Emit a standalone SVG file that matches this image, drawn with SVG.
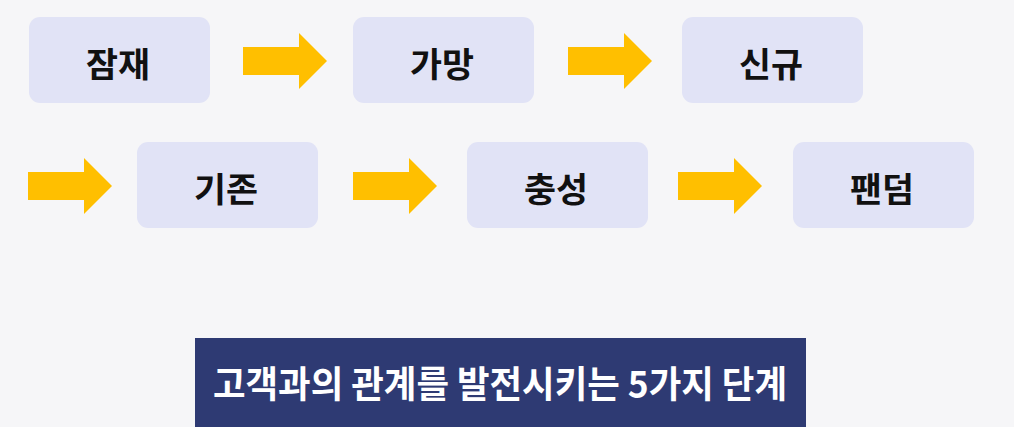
<svg xmlns="http://www.w3.org/2000/svg" width="1014" height="427" viewBox="0 0 1014 427">
<style>
.box{fill:#e1e3f6;}
.lbl{font-family:"Noto Sans CJK KR","Noto Sans",sans-serif;font-weight:700;font-size:34px;fill:#111111;text-anchor:middle;dominant-baseline:central;}
.arr{fill:#ffbf00;}
.title{font-family:"Noto Sans CJK KR","Noto Sans",sans-serif;font-weight:700;font-size:37px;fill:#ffffff;text-anchor:middle;dominant-baseline:central;}
</style>
<defs>
<path id="arrow" d="M0,14 H56 V0 L84,28 L56,56 V42 H0 Z"/>
</defs>
<rect width="1014" height="427" fill="#f6f6f8"/>
<g id="connectors">
<use href="#arrow" class="arr" x="243" y="33"/>
<use href="#arrow" class="arr" x="568" y="33"/>
<use href="#arrow" class="arr" x="28" y="158"/>
<use href="#arrow" class="arr" x="353" y="158"/>
<use href="#arrow" class="arr" x="678" y="158"/>
</g>
<g id="n1"><rect class="box" x="29" y="17" width="181" height="86" rx="11"/><text class="lbl" x="118" y="62" textLength="64" lengthAdjust="spacingAndGlyphs">잠재</text></g>
<g id="n2"><rect class="box" x="353" y="17" width="181" height="86" rx="11"/><text class="lbl" x="442" y="62" textLength="64" lengthAdjust="spacingAndGlyphs">가망</text></g>
<g id="n3"><rect class="box" x="682" y="17" width="181" height="86" rx="11"/><text class="lbl" x="771" y="62" textLength="64" lengthAdjust="spacingAndGlyphs">신규</text></g>
<g id="n4"><rect class="box" x="137" y="142" width="181" height="86" rx="11"/><text class="lbl" x="226" y="187" textLength="64" lengthAdjust="spacingAndGlyphs">기존</text></g>
<g id="n5"><rect class="box" x="467" y="142" width="181" height="86" rx="11"/><text class="lbl" x="556" y="187" textLength="64" lengthAdjust="spacingAndGlyphs">충성</text></g>
<g id="n6"><rect class="box" x="793" y="142" width="181" height="86" rx="11"/><text class="lbl" x="882" y="187" textLength="64" lengthAdjust="spacingAndGlyphs">팬덤</text></g>
<g id="title"><rect x="195" y="338" width="611" height="89" fill="#2e3a73"/><text class="title" x="500" y="382" textLength="574" lengthAdjust="spacingAndGlyphs">고객과의 관계를 발전시키는 5가지 단계</text></g>
</svg>
